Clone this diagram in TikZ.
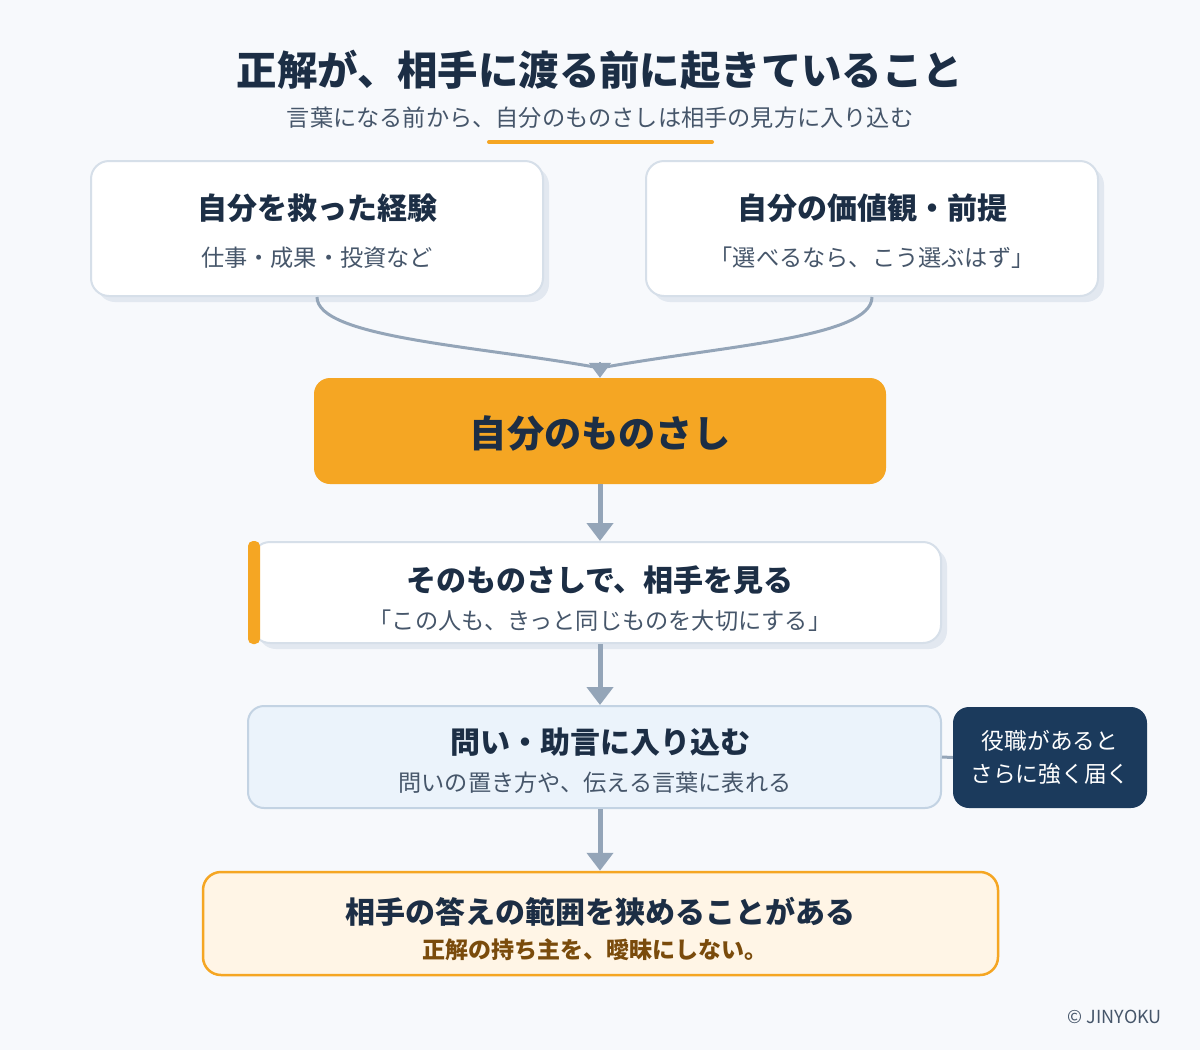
\documentclass[tikz,border=0pt]{standalone}
\usepackage{fontspec}
\setmainfont{Noto Sans CJK JP}
\usetikzlibrary{arrows.meta,shadows}
\definecolor{bg}{HTML}{F7F9FC}
\definecolor{ink}{HTML}{1C2E45}
\definecolor{muted}{HTML}{46566A}
\definecolor{accent}{HTML}{F5A623}
\definecolor{linec}{HTML}{94A5B8}
\definecolor{cardedge}{HTML}{D6DFE9}
\definecolor{shadowc}{HTML}{E2E8F0}
\definecolor{askfill}{HTML}{EBF3FB}
\definecolor{askedge}{HTML}{C3D3E3}
\definecolor{rolefill}{HTML}{1B3A5C}
\definecolor{creamfill}{HTML}{FFF5E6}
\definecolor{brown}{HTML}{7A4B0C}
\tikzset{
  card/.style={draw=cardedge, line width=2pt, fill=white, rounded corners=18pt, inner sep=0pt,
    drop shadow={shadow xshift=6pt, shadow yshift=-6pt, fill=shadowc, opacity=1}},
  head/.style={text=ink, font=\bfseries\fontsize{30}{35}\selectfont, inner sep=0pt},
  note/.style={text=muted, font=\fontsize{23.2}{27}\selectfont, inner sep=0pt},
  flow/.style={linec, line width=5pt, -{Triangle[width=26pt,length=18pt]}},
  merge/.style={linec, line width=3pt},
}

\begin{document}
\begin{tikzpicture}[x=1pt, y=-1pt]
  \useasboundingbox[fill=bg] (0,0) rectangle (1200,1050);

  % title
  \node[text=ink, font=\bfseries\fontsize{40.4}{46}\selectfont, inner sep=0pt] (title) at (600,70) {正解が、相手に渡る前に起きていること};
  \node[text=muted, font=\fontsize{23.2}{28}\selectfont, inner sep=0pt] (sub) at (600,118) {言葉になる前から、自分のものさしは相手の見方に入り込む};
  \draw[accent, line width=4pt, line cap=round] (489,142) -- (712,142);

  % two sources
  \node[card, minimum width=452pt, minimum height=135pt] (exp) at (317,228.5) {};
  \node[head] (exp-h) at (317,208) {自分を救った経験};
  \node[note] (exp-s) at (317,258) {仕事・成果・投資など};

  \node[card, minimum width=452pt, minimum height=135pt] (val) at (872,228.5) {};
  \node[head] (val-h) at (872,208) {自分の価値観・前提};
  \node[note] (val-s) at (872,258) {「選べるなら、こう選ぶはず」};

  % core
  \node[fill=accent, rounded corners=16pt, minimum width=572pt, minimum height=106pt, inner sep=0pt] (core) at (600,431) {};
  \node[text=ink, font=\bfseries\fontsize{37.2}{44}\selectfont, inner sep=0pt] (core-h) at (600,433) {自分のものさし};

  \coordinate (join) at (600,368);
  \draw[merge] (exp.south) .. controls (317,338) and (480,346) .. (join);
  \draw[merge] (val.south) .. controls (872,338) and (720,346) .. (join);
  \draw[linec, line width=2pt, -{Triangle[width=22pt,length=15pt]}] (600,362) -- (core.north);

  % look
  \node[card, minimum width=689pt, minimum height=101pt] (look) at (596.5,592.5) {};
  \fill[accent, rounded corners=5pt] ([xshift=-3pt]look.north west) rectangle ([xshift=9pt]look.south west);
  \node[head] (look-h) at (600,580) {そのものさしで、相手を見る};
  \node[note] (look-s) at (600,621) {「この人も、きっと同じものを大切にする」};

  % ask
  \node[draw=askedge, line width=2pt, fill=askfill, rounded corners=16pt, minimum width=693pt, minimum height=102pt, inner sep=0pt] (ask) at (594.5,757) {};
  \node[head] (ask-h) at (600,742) {問い・助言に入り込む};
  \node[note] (ask-s) at (595,783) {問いの置き方や、伝える言葉に表れる};

  \node[fill=rolefill, rounded corners=16pt, minimum width=194pt, minimum height=101pt, inner sep=0pt] (role) at (1050,757.5) {};
  \node[text=white, font=\fontsize{22.7}{27}\selectfont, inner sep=0pt] (role-a) at (1050,741) {役職があると};
  \node[text=white, font=\fontsize{22.7}{27}\selectfont, inner sep=0pt] (role-b) at (1050,774) {さらに強く届く};
  \draw[linec, line width=3pt] (ask.east) -- (role.west);

  % result
  \node[draw=accent, line width=2.5pt, fill=creamfill, rounded corners=18pt, minimum width=795pt, minimum height=103pt, inner sep=0pt] (narrow) at (600.5,923.5) {};
  \node[head] (narrow-h) at (600,912) {相手の答えの範囲を狭めることがある};
  \node[text=brown, font=\bfseries\fontsize{23}{27}\selectfont, inner sep=0pt] (narrow-s) at (595,950) {正解の持ち主を、曖昧にしない。};

  % flow
  \draw[flow] (core.south) -- (core.south |- look.north);
  \draw[flow] (core.south |- look.south) -- (core.south |- ask.north);
  \draw[flow] (core.south |- ask.south) -- (core.south |- narrow.north);

  \node[text=muted, font=\fontsize{18}{22}\selectfont, inner sep=0pt, anchor=east] (credit) at (1162,1017) {© JINYOKU};
\end{tikzpicture}
\end{document}
